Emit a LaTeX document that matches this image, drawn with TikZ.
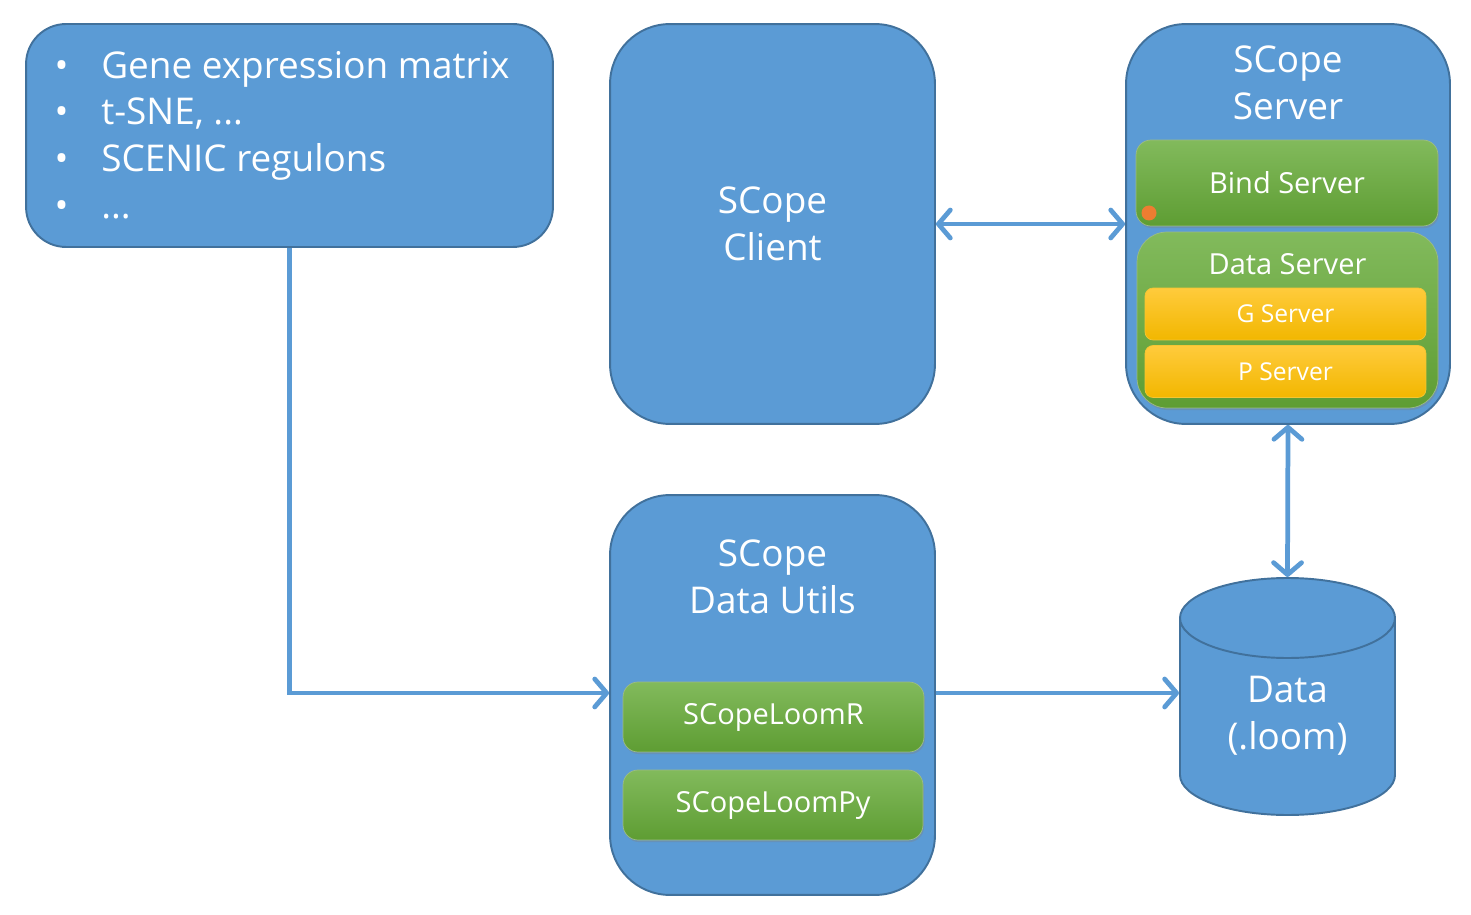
\documentclass[tikz,border=0pt]{standalone}
\usepackage{fontspec}
\setmainfont{Open Sans}
\usepackage{tikz}
\usetikzlibrary{positioning,arrows.meta,shadows}

\definecolor{boxblue}{HTML}{5B9BD5}
\definecolor{edgeblue}{HTML}{41719C}
\definecolor{greentop}{HTML}{82BA5C}
\definecolor{greenbot}{HTML}{5E9D33}
\definecolor{greenedge}{HTML}{5A8F35}
\definecolor{yellowtop}{HTML}{FFCB3C}
\definecolor{yellowbot}{HTML}{F2B700}
\definecolor{dotorange}{HTML}{ED7D31}

\begin{document}
\begin{tikzpicture}[x=0.02cm,y=-0.02cm,
    bluebox/.style={draw=edgeblue,line width=1.1pt,fill=boxblue,text=white,align=center,
      font=\fontsize{21}{26.6}\selectfont},
    greenbox/.style={draw=greenedge!60,line width=0.4pt,top color=greentop,bottom color=greenbot,
      text=white,rounded corners=0.3cm,drop shadow={opacity=0.35,shadow xshift=0.6pt,shadow yshift=-1.2pt}},
    yellowbox/.style={draw=yellowbot!80,line width=0.4pt,top color=yellowtop,bottom color=yellowbot,
      text=white,rounded corners=0.16cm,minimum width=5.62cm,minimum height=1.04cm,
      font=\fontsize{14}{17}\selectfont},
    midtext/.style={text=white,font=\fontsize{16.5}{20}\selectfont},
    conn/.style={draw=boxblue,line width=2.7pt,
      >={Straight Barb[length=0.24cm,width=0.56cm,line cap=round,line join=round]}}]
  \useasboundingbox (0,0) rectangle (1471,915);

  % input list
  \node[bluebox,rounded corners=0.8cm,minimum width=10.54cm,minimum height=4.46cm](list)
    at (289.5,135.5) {};
  \node[text=white,align=left,font=\fontsize{21}{26.6}\selectfont](listtext) at (282,135)
    {\makebox[26.6pt][l]{•}Gene expression matrix\\
     \makebox[26.6pt][l]{•}t-SNE, ...\\
     \makebox[26.6pt][l]{•}SCENIC regulons\\
     \makebox[26.6pt][l]{•}...};

  % client
  \node[bluebox,rounded corners=1.2cm,minimum width=6.5cm,minimum height=8cm](client)
    at (772.5,224) {SCope\\Client};

  % server with its parts
  \node[bluebox,rounded corners=1.2cm,minimum width=6.48cm,minimum height=8cm](server)
    at (1288,224) {};
  \node[bluebox,draw=none,fill=none,anchor=north](servertitle)
    at (1288,39) {SCope\\Server};
  \node[greenbox,midtext,minimum width=6.04cm,minimum height=1.72cm](bind)
    at (1287,183) {Bind Server};
  \fill[dotorange] (1149,213) circle (0.15cm);
  \node[greenbox,rounded corners=0.6cm,minimum width=6.02cm,minimum height=3.52cm](dataserver)
    at (1287.5,320) {};
  \node[midtext,anchor=north](dataservertitle) at (1287.5,247) {Data Server};
  \node[yellowbox](gserver) at (1285.5,314) {G Server};
  \node[yellowbox](pserver) at (1285.5,371.5) {P Server};

  % data utils
  \node[bluebox,rounded corners=1.2cm,minimum width=6.5cm,minimum height=8cm](utils)
    at (772.5,695) {};
  \node[bluebox,draw=none,fill=none,anchor=north](utilstitle)
    at (772.5,533) {SCope\\Data Utils};
  \node[greenbox,midtext,minimum width=6.02cm,minimum height=1.4cm](loomr)
    at (773.5,717) {SCopeLoomR};
  \node[greenbox,midtext,minimum width=6.0cm,minimum height=1.4cm](loompy)
    at (773,805) {SCopeLoomPy};

  % data cylinder
  \filldraw[fill=boxblue,draw=edgeblue,line width=1.1pt]
    (1180,618) -- (1180,775) arc[start angle=180,end angle=0,x radius=107.5,y radius=40]
    -- (1395,618);
  \filldraw[fill=boxblue,draw=edgeblue,line width=1.1pt] (1287.5,618) ellipse[x radius=107.5,y radius=40];
  \node[bluebox,draw=none,fill=none](data) at (1287.5,716) {Data\\(.loom)};
  \coordinate (datatop) at (1287.5,577);
  \coordinate (dataleft) at (1179,693);

  % connectors
  \draw[conn,<->] (client.east) -- (server.west);
  \draw[conn,<->] (server.south) -- (datatop);
  \draw[conn,->] (list.south) |- (utils.west |- dataleft);
  \draw[conn,->] (utils.east |- dataleft) -- (dataleft);
\end{tikzpicture}
\end{document}
